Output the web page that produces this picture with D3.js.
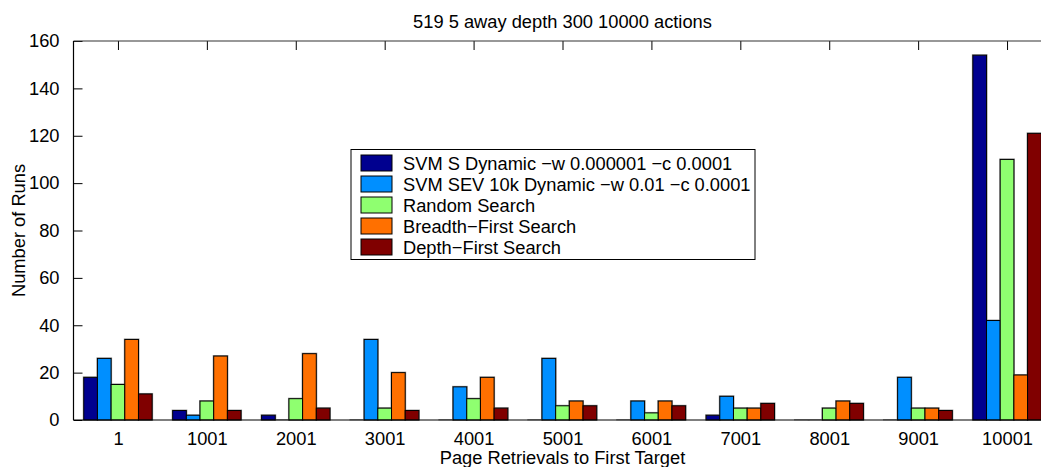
<!DOCTYPE html>
<html>
<head>
<meta charset="utf-8">
<script src="https://cdn.jsdelivr.net/npm/d3@7"></script>
<style>
  html, body { margin: 0; padding: 0; background: #fff; }
  svg { display: block; font-family: "Liberation Sans", Arial, Helvetica, sans-serif; }
</style>
</head>
<body>
<div id="chart"></div>
<script>
// Histogram bins (page retrievals to first target)
const categories = ["1", "1001", "2001", "3001", "4001", "5001", "6001", "7001", "8001", "9001", "10001"];

const seriesNames = [
  "SVM S Dynamic \u2212w 0.000001 \u2212c 0.0001",
  "SVM SEV 10k Dynamic \u2212w 0.01 \u2212c 0.0001",
  "Random Search",
  "Breadth\u2212First Search",
  "Depth\u2212First Search"
];

// Runs per bin for each search method
const svmS      = [18, 4, 2, 0, 0, 0, 0, 2, 0, 0, 154];
const svmSev    = [26, 2, 0, 34, 14, 26, 8, 10, 0, 18, 42];
const randomS   = [15, 8, 9, 5, 9, 6, 3, 5, 5, 5, 110];
const breadthFS = [34, 27, 28, 20, 18, 8, 8, 5, 8, 5, 19];
const depthFS   = [11, 4, 5, 4, 5, 6, 6, 7, 7, 4, 121];

const seriesValues = [svmS, svmSev, randomS, breadthFS, depthFS];
const seriesColors = ["#00008f", "#008fff", "#8fff70", "#ff7000", "#800000"];

const yTicks = [0, 20, 40, 60, 80, 100, 120, 140, 160];

const title = "519 5 away depth 300 10000 actions";
const xLabel = "Page Retrievals to First Target";
const yLabel = "Number of Runs";

const W = 1041, H = 467;
const FS = 18.3;
const plot = { left: 73.5, right: 1051.5, top: 41, bottom: 420 };

const svg = d3.select("#chart").append("svg")
  .attr("width", W).attr("height", H);

const defs = svg.append("defs");
defs.append("clipPath").attr("id", "plotClip")
  .append("rect").attr("x", 0).attr("y", 0).attr("width", W).attr("height", H);

const x = d3.scalePoint()
  .domain(categories)
  .range([plot.left, plot.right])
  .padding(0.5);

const step = x.step();
const groupWidth = step * Math.min(0.8, 5 / (5 + 1.5));

const xInner = d3.scaleBand()
  .domain(d3.range(seriesNames.length))
  .range([-groupWidth / 2, groupWidth / 2])
  .padding(0);

const y = d3.scaleLinear()
  .domain([0, 160])
  .range([plot.bottom, plot.top]);

// Bars
const rows = [];
seriesValues.forEach((vals, s) => {
  vals.forEach((v, i) => rows.push({ s, cat: categories[i], v }));
});

const barsG = svg.append("g").attr("clip-path", "url(#plotClip)");

// soft halo behind the bar edges
barsG.selectAll("rect.halo").data(rows).join("rect")
  .attr("class", "halo")
  .attr("x", d => x(d.cat) + xInner(d.s) - 0.5)
  .attr("y", d => y(d.v) - 0.5)
  .attr("width", xInner.bandwidth() + 1)
  .attr("height", d => y(0) - y(d.v) + 0.5)
  .attr("fill", "none")
  .attr("stroke", "#999")
  .attr("stroke-width", 1);

barsG.selectAll("rect.bar").data(rows).join("rect")
  .attr("class", "bar")
  .attr("x", d => x(d.cat) + xInner(d.s))
  .attr("y", d => y(d.v))
  .attr("width", xInner.bandwidth())
  .attr("height", d => y(0) - y(d.v))
  .attr("fill", d => seriesColors[d.s])
  .attr("stroke", "#000")
  .attr("stroke-width", 1);

// Axes (box with inward ticks)
const axisG = svg.append("g");

const yAxis = d3.axisLeft(y).tickValues(yTicks).tickSize(-9).tickPadding(14);
axisG.append("g")
  .attr("transform", `translate(${plot.left},0)`)
  .call(yAxis)
  .call(g => g.select(".domain").remove())
  .call(g => g.selectAll("line").attr("stroke", "#000"))
  .call(g => g.selectAll("text").attr("font-size", FS).attr("fill", "#000")
    .attr("font-family", "'Liberation Sans', Arial, sans-serif"));

const xAxisBottom = d3.axisBottom(x).tickSize(-9).tickPadding(12);
axisG.append("g")
  .attr("transform", `translate(0,${plot.bottom})`)
  .call(xAxisBottom)
  .call(g => g.select(".domain").remove())
  .call(g => g.selectAll("line").remove())
  .call(g => g.selectAll("text").attr("font-size", FS).attr("fill", "#000")
    .attr("font-family", "'Liberation Sans', Arial, sans-serif"));

const xAxisTop = d3.axisTop(x).tickSize(-9).tickFormat("");
axisG.append("g")
  .attr("transform", `translate(0,${plot.top})`)
  .call(xAxisTop)
  .call(g => g.select(".domain").remove())
  .call(g => g.selectAll("line").attr("stroke", "#000"));

// frame lines
axisG.append("line")
  .attr("x1", plot.left).attr("x2", plot.right)
  .attr("y1", plot.top).attr("y2", plot.top)
  .attr("stroke", "#333").attr("stroke-width", 1.2);
axisG.append("line")
  .attr("x1", plot.left).attr("x2", plot.right)
  .attr("y1", plot.bottom).attr("y2", plot.bottom)
  .attr("stroke", "#000").attr("stroke-width", 1.2);
axisG.append("line")
  .attr("x1", plot.left).attr("x2", plot.left)
  .attr("y1", plot.top).attr("y2", plot.bottom)
  .attr("stroke", "#000").attr("stroke-width", 1.2);

// Title and axis labels
svg.append("text")
  .attr("x", (plot.left + plot.right) / 2).attr("y", 28)
  .attr("text-anchor", "middle").attr("font-size", FS).attr("fill", "#000")
  .text(title);

svg.append("text")
  .attr("x", (plot.left + plot.right) / 2).attr("y", 464)
  .attr("text-anchor", "middle").attr("font-size", FS).attr("fill", "#000")
  .text(xLabel);

svg.append("text")
  .attr("transform", `translate(25,${(plot.top + plot.bottom) / 2}) rotate(-90)`)
  .attr("text-anchor", "middle").attr("font-size", FS).attr("fill", "#000")
  .text(yLabel);

// Legend
const legend = { x: 351, y: 149.5, w: 404, h: 110, rowH: 21, first: 163 };
const lg = svg.append("g");
lg.append("rect")
  .attr("x", legend.x).attr("y", legend.y)
  .attr("width", legend.w).attr("height", legend.h)
  .attr("fill", "#fff").attr("stroke", "#000").attr("stroke-width", 1);

const items = lg.selectAll("g.item").data(seriesNames).join("g")
  .attr("class", "item")
  .attr("transform", (d, i) => `translate(0,${legend.first + i * legend.rowH})`);

items.append("rect")
  .attr("x", 361).attr("y", -8)
  .attr("width", 31).attr("height", 16)
  .attr("fill", (d, i) => seriesColors[i])
  .attr("stroke", "#000").attr("stroke-width", 1);

items.append("text")
  .attr("x", 403).attr("y", 6.5)
  .attr("font-size", FS).attr("fill", "#000")
  .text(d => d);
</script>
</body>
</html>
